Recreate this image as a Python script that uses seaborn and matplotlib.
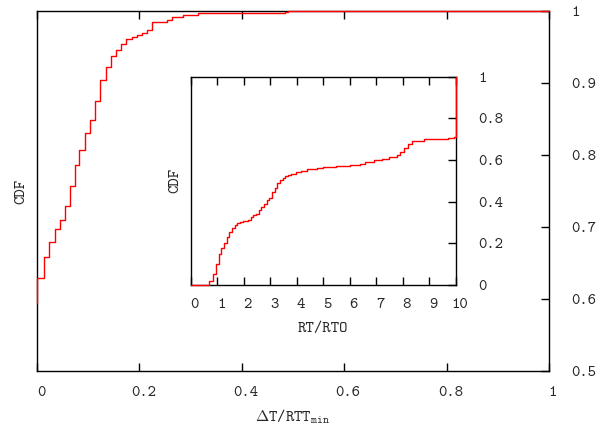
import matplotlib
matplotlib.use("Agg")
import matplotlib.pyplot as plt
from matplotlib.transforms import ScaledTranslation
import seaborn as sns
import pandas as pd

# ---- data ----
main_x = [0, 0, 0.0137, 0.024, 0.0346, 0.044, 0.054, 0.064, 0.074, 0.083, 0.093,
          0.1035, 0.114, 0.124, 0.134, 0.1445, 0.154, 0.164, 0.174, 0.185, 0.195,
          0.2045, 0.214, 0.225, 0.253, 0.263, 0.285, 0.315, 0.484, 0.49, 1.0]
main_y = [0.595, 0.629, 0.659, 0.679, 0.697, 0.710, 0.729, 0.757, 0.786, 0.807, 0.831,
          0.849, 0.876, 0.904, 0.923, 0.9375, 0.946, 0.954, 0.961, 0.964, 0.9675,
          0.970, 0.9736, 0.985, 0.988, 0.992, 0.9953, 0.9976, 0.999, 1.0, 1.0]

inset_x = [0, 0.70, 0.85, 0.94, 1.06, 1.16, 1.26, 1.36, 1.46, 1.56, 1.66, 1.76, 1.86,
           1.96, 2.16, 2.26, 2.36, 2.46, 2.57, 2.67, 2.77, 2.87, 2.97, 3.07, 3.17,
           3.27, 3.37, 3.47, 3.57, 3.67, 3.77, 3.97, 4.17, 4.38, 4.78, 4.98, 5.5,
           6.0, 6.39, 6.59, 6.9, 7.2, 7.5, 7.77, 7.90, 8.05, 8.20, 8.35, 8.8, 9.3,
           9.7, 9.95, 10.0]
inset_y = [0, 0.02, 0.051, 0.10, 0.147, 0.179, 0.203, 0.229, 0.253, 0.272, 0.287,
           0.296, 0.301, 0.306, 0.311, 0.325, 0.335, 0.342, 0.36, 0.376, 0.387,
           0.408, 0.418, 0.445, 0.464, 0.488, 0.504, 0.512, 0.522, 0.528, 0.534,
           0.541, 0.549, 0.554, 0.560, 0.566, 0.572, 0.577, 0.582, 0.592, 0.598,
           0.605, 0.613, 0.624, 0.640, 0.656, 0.677, 0.693, 0.698, 0.702, 0.706,
           0.709, 1.0]

main_xticks = [0, 0.2, 0.4, 0.6, 0.8, 1]
main_xticklabels = ["0", "0.2", "0.4", "0.6", "0.8", "1"]
main_yticks = [0.5, 0.6, 0.7, 0.8, 0.9, 1]
main_yticklabels = ["0.5", "0.6", "0.7", "0.8", "0.9", "1"]
inset_xticks = list(range(0, 11))
inset_xticklabels = [str(v) for v in inset_xticks]
inset_yticks = [0, 0.2, 0.4, 0.6, 0.8, 1]
inset_yticklabels = ["0", "0.2", "0.4", "0.6", "0.8", "1"]

main_xlabel = r"$\Delta$T/RTT$_{\mathtt{min}}$"
main_ylabel = "CDF"
inset_xlabel = "RT/RTO"
inset_ylabel = "CDF"

# ---- style ----
sns.set_style("white")
plt.rcParams["font.family"] = ["cmtt10", "DejaVu Sans"]
plt.rcParams["mathtext.fontset"] = "cm"
plt.rcParams["axes.unicode_minus"] = False
FS = 11.5

fig = plt.figure(figsize=(6.10, 4.28), dpi=100)
ax = fig.add_axes([37 / 610, 1 - 371.3 / 428, 512 / 610, 360 / 428])
axin = fig.add_axes([190.7 / 610, 1 - 285 / 428, 265 / 610, 208.5 / 428])

main_df = pd.DataFrame({"x": main_x, "y": main_y})
inset_df = pd.DataFrame({"x": inset_x, "y": inset_y})

sns.lineplot(data=main_df, x="x", y="y", ax=ax, estimator=None, sort=False,
             drawstyle="steps-post", color="#ff0000", linewidth=1.0, clip_on=False,
             zorder=3)
sns.lineplot(data=inset_df, x="x", y="y", ax=axin, estimator=None, sort=False,
             drawstyle="steps-post", color="#ff0000", linewidth=1.0, clip_on=False,
             zorder=3)


def style_axes(a, xticks, xtl, yticks, ytl, xlim, ylim, xlabel, ylabel,
               xpad, xlabpad, ylabpad):
    a.set_xlim(*xlim)
    a.set_ylim(*ylim)
    for s in a.spines.values():
        s.set_visible(True)
        s.set_color("black")
        s.set_linewidth(1.0)
    a.set_xticks(xticks)
    a.set_xticklabels(xtl, fontsize=FS)
    a.set_yticks(yticks)
    a.set_yticklabels(ytl, fontsize=FS)
    a.tick_params(axis="x", which="both", direction="in", length=5.5, width=1.0,
                  top=True, bottom=True, labeltop=False, labelbottom=True,
                  pad=xpad, color="black")
    a.tick_params(axis="y", which="both", direction="in", length=5.5, width=1.0,
                  left=False, right=True, labelleft=False, labelright=True,
                  pad=16, color="black")
    a.set_xlabel(xlabel, fontsize=FS, labelpad=xlabpad)
    a.set_ylabel(ylabel, fontsize=FS, labelpad=ylabpad)
    a.yaxis.set_label_position("left")
    a.grid(False)
    a.set_facecolor("white")
    shift = ScaledTranslation(4 / 100, 0, fig.dpi_scale_trans)
    for lab in a.get_xticklabels():
        lab.set_transform(lab.get_transform() + shift)


style_axes(ax, main_xticks, main_xticklabels, main_yticks, main_yticklabels,
           (0, 1), (0.5, 1), main_xlabel, main_ylabel, 10.5, 5, 6)
style_axes(axin, inset_xticks, inset_xticklabels, inset_yticks, inset_yticklabels,
           (0, 10), (0, 1), inset_xlabel, inset_ylabel, 9, 7.5, 5.8)

fig.savefig("out.png", dpi=100, facecolor="white")
